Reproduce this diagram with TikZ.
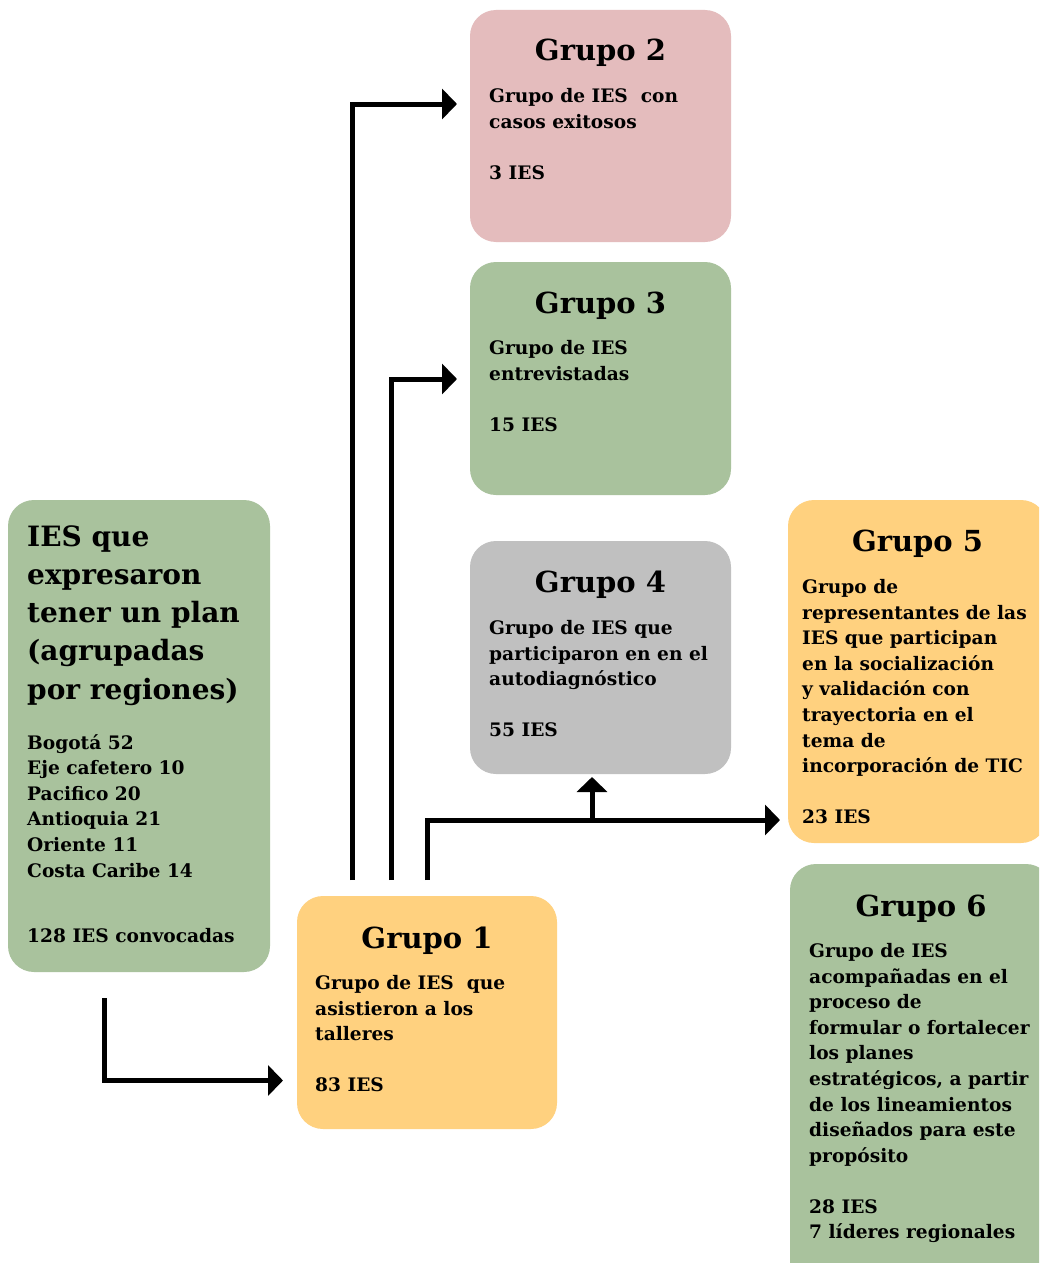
\documentclass[tikz,border=0pt]{standalone}
\usepackage{fontspec}
\setmainfont{DejaVu Serif}
\usetikzlibrary{arrows.meta}
\definecolor{gpink}{HTML}{E4BCBD}
\definecolor{ggreen}{HTML}{A9C29D}
\definecolor{ggray}{HTML}{C0C0C0}
\definecolor{gorange}{HTML}{FFD17F}
\newcommand{\blk}[1]{\begin{tabular}[t]{@{}l@{}}#1\end{tabular}}
\newcommand{\bodyfont}{\fontsize{18.6}{25.55}\selectfont\bfseries}
\begin{document}
\begin{tikzpicture}[x=1pt,y=-1pt,
  box/.style={rectangle, rounded corners=26pt, draw=none, inner sep=0pt},
  ttl/.style={font=\fontsize{29}{34}\selectfont\bfseries, inner sep=0pt, anchor=base},
  bigttl/.style={font=\fontsize{28}{38.25}\selectfont\bfseries, inner sep=0pt, anchor=base west},
  bod/.style={font=\bodyfont, inner sep=0pt, anchor=base west},
  conn/.style={line width=5pt, -{Triangle[length=15pt 0 0,width=30pt 0 0]}}
]
\useasboundingbox (0,0) rectangle (1039,1263);
\clip (0,0) rectangle (1039,1263);
\fill[white] (0,0) rectangle (1039,1263);

% boxes
\node[box, fill=gpink,   minimum width=261pt, minimum height=232pt] (g2) at (600.5,126) {};
\node[box, fill=ggreen,  minimum width=261pt, minimum height=233pt] (g3) at (600.5,378.5) {};
\node[box, fill=ggray,   minimum width=261pt, minimum height=233pt] (g4) at (600.5,657.5) {};
\node[box, fill=gorange, minimum width=259pt, minimum height=343pt] (g5) at (917.5,671.5) {};
\node[box, fill=ggreen,  minimum width=262pt, minimum height=426pt] (g6) at (921,1077) {};
\node[box, fill=ggreen,  minimum width=262pt, minimum height=472pt] (g0) at (139,736) {};
\node[box, fill=gorange, minimum width=260pt, minimum height=233pt] (g1) at (427,1012.5) {};

% titles
\node[ttl] (t2) at (600.5,61) {Grupo 2};
\node[ttl] (t3) at (600.5,313) {Grupo 3};
\node[ttl] (t4) at (600.5,592) {Grupo 4};
\node[ttl] (t5) at (917.5,551) {Grupo 5};
\node[ttl] (t6) at (921,916) {Grupo 6};
\node[ttl] (t1) at (427,948) {Grupo 1};
\node[bigttl] (t0) at (27,546) {\fontsize{28}{38.25}\selectfont\blk{IES que\\expresaron\\tener un plan\\(agrupadas\\por regiones)}};

% bodies
\node[bod] (b2) at (489,102.7) {\bodyfont\blk{Grupo de IES\ \ con\\casos exitosos\\ \\3 IES}};
\node[bod] (b3) at (489,354.7) {\bodyfont\blk{Grupo de IES\\entrevistadas\\ \\15 IES}};
\node[bod] (b4) at (489,634.7) {\bodyfont\blk{Grupo de IES que\\participaron en en el\\autodiagnóstico\\ \\55 IES}};
\node[bod] (b5) at (802,593.7) {\bodyfont\blk{Grupo de\\representantes de las\\IES que participan\\en la socialización\\y validación con\\trayectoria en el\\tema de\\incorporación de TIC\\ \\23 IES}};
\node[bod] (b6) at (809,957.7) {\bodyfont\blk{Grupo de IES\\acompañadas en el\\proceso de\\formular o fortalecer\\los planes\\estratégicos, a partir\\de los lineamientos\\diseñados para este\\propósito\\ \\28 IES\\7 líderes regionales}};
\node[bod] (b1) at (315,989.7) {\bodyfont\blk{Grupo de IES\ \ que\\asistieron a los\\talleres\\ \\83 IES}};
\node[bod] (b0) at (27,749.3) {\bodyfont\blk{Bogotá 52\\Eje cafetero 10\\Pacifico 20\\Antioquia 21\\Oriente 11\\Costa Caribe 14\\[39.5pt]128 IES convocadas}};

% connector anchors
\coordinate (s2) at (352,880);
\coordinate (e2) at (457,104);
\coordinate (s3) at (391,880);
\coordinate (e3) at (457,379);
\coordinate (s4) at (427,880);
\coordinate (e5) at (780,820);
\coordinate (j4) at (592,820);
\coordinate (e4) at (592,777);
\coordinate (s0) at (104,998);
\coordinate (e1) at (283,1080.5);

\draw[conn] (s2) |- (e2);
\draw[conn] (s3) |- (e3);
\draw[conn] (s4) |- (e5);
\draw[conn] (j4) -- (e4);
\draw[conn] (s0) |- (e1);
\end{tikzpicture}
\end{document}
